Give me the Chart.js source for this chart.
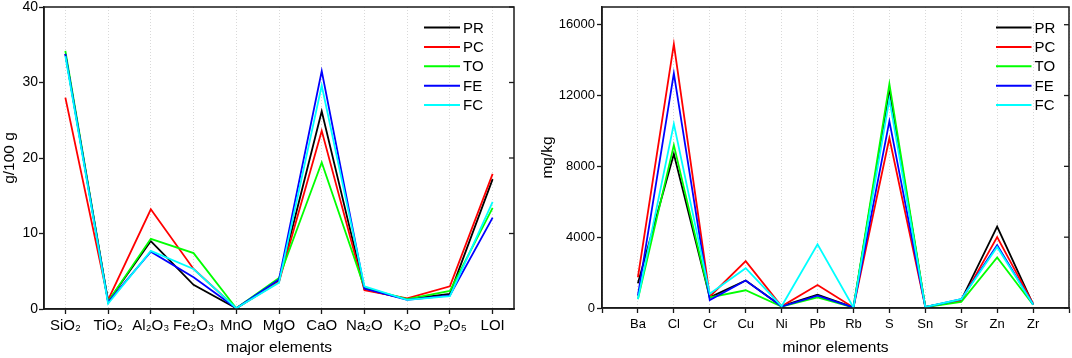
<!DOCTYPE html>
<html>
<head>
<meta charset="utf-8">
<script src="https://cdn.jsdelivr.net/npm/chart.js@4.4.0/dist/chart.umd.min.js"></script>
<style>
  html, body { margin: 0; padding: 0; background: #fff; }
  .wrap { position: absolute; top: 0; width: 536px; height: 358px; }
  #left { left: 0; }
  #right { left: 536px; }
</style>
</head>
<body>
<div class="wrap" id="left"><canvas id="majorChart" width="536" height="358"></canvas></div>
<div class="wrap" id="right"><canvas id="minorChart" width="536" height="358"></canvas></div>
<script>
// series
const seriesNames = ['PR', 'PC', 'TO', 'FE', 'FC'];
const seriesColors = ['#000000', '#ff0000', '#00ff00', '#0000ff', '#00ffff'];

// major elements, g/100 g
const majorCats = ['SiO₂', 'TiO₂', 'Al₂O₃', 'Fe₂O₃', 'MnO', 'MgO', 'CaO', 'Na₂O', 'K₂O', 'P₂O₅', 'LOI'];
const majorPR = [33.8, 1.0, 9.0, 3.2, 0.1, 3.7, 26.2, 2.6, 1.3, 2.0, 17.2];
const majorPC = [28.0, 1.2, 13.2, 5.3, 0.1, 3.6, 23.6, 2.5, 1.4, 3.0, 17.9];
const majorTO = [34.2, 1.0, 9.3, 7.4, 0.1, 4.1, 19.4, 2.8, 1.3, 2.4, 13.4];
const majorFE = [33.8, 0.9, 7.6, 4.2, 0.1, 3.9, 31.5, 2.7, 1.2, 1.8, 12.1];
const majorFC = [33.5, 0.7, 7.7, 5.3, 0.1, 3.5, 29.6, 3.0, 1.2, 1.7, 14.2];
const majorYTicks = [0, 10, 20, 30, 40];

// minor elements, mg/kg
const minorCats = ['Ba', 'Cl', 'Cr', 'Cu', 'Ni', 'Pb', 'Rb', 'S', 'Sn', 'Sr', 'Zn', 'Zr'];
const minorPR = [1400, 8700, 600, 1550, 100, 750, 30, 12300, 60, 450, 4600, 200];
const minorPC = [1750, 14900, 650, 2650, 100, 1300, 30, 9600, 60, 400, 4000, 250];
const minorTO = [500, 9200, 600, 1000, 80, 600, 30, 12650, 50, 350, 2850, 180];
const minorFE = [700, 13250, 450, 1550, 80, 700, 30, 10550, 50, 500, 3550, 200];
const minorFC = [500, 10400, 800, 2250, 100, 3600, 30, 11800, 60, 500, 3450, 200];
const minorYTicks = [0, 4000, 8000, 12000, 16000];

const fam = '"Liberation Sans", Arial, sans-serif';
Chart.defaults.font.family = fam;
Chart.defaults.color = '#000';

// box round the plot + small inward ticks on the right side
const framePlugin = {
  id: 'frame',
  afterDatasetsDraw(chart) {
    const {ctx, chartArea: a, scales} = chart;
    ctx.save();
    ctx.strokeStyle = '#1a1a1a';
    ctx.lineWidth = 1.5;
    ctx.strokeRect(a.left, a.top, a.right - a.left, a.bottom - a.top);
    ctx.lineWidth = 1.3;
    scales.y.ticks.forEach(t => {
      const y = scales.y.getPixelForValue(t.value);
      ctx.beginPath();
      ctx.moveTo(a.right - 5, y);
      ctx.lineTo(a.right, y);
      ctx.stroke();
    });
    ctx.restore();
  }
};

// legend drawn inside the plot, top right
const boxLegend = {
  id: 'boxLegend',
  afterDraw(chart, args, opts) {
    const {ctx, chartArea: a} = chart;
    ctx.save();
    ctx.font = '15px ' + fam;
    ctx.textBaseline = 'middle';
    chart.data.datasets.forEach((ds, i) => {
      const y = opts.top + i * opts.gap;
      const x = a.right - opts.inset;
      ctx.strokeStyle = ds.borderColor;
      ctx.lineWidth = 2;
      ctx.beginPath();
      ctx.moveTo(x, y);
      ctx.lineTo(x + opts.len, y);
      ctx.stroke();
      ctx.fillStyle = '#000';
      ctx.fillText(ds.label, x + opts.len + 3, y + 1);
    });
    ctx.restore();
  }
};

function makeSets(list, toPoint) {
  return list.map((vals, i) => ({
    label: seriesNames[i],
    data: toPoint(vals),
    borderColor: seriesColors[i],
    backgroundColor: seriesColors[i],
    borderWidth: 1.8,
    pointRadius: 0,
    tension: 0,
    order: list.length - i
  }));
}

const gridStyle = { color: 'rgba(0,0,0,0.15)', lineWidth: 1, tickColor: '#1a1a1a', tickLength: 5, tickWidth: 1.3 };

// left chart
new Chart(document.getElementById('majorChart'), {
  type: 'line',
  data: {
    labels: majorCats,
    datasets: makeSets([majorPR, majorPC, majorTO, majorFE, majorFC], v => v)
  },
  plugins: [framePlugin, boxLegend],
  options: {
    responsive: false,
    animation: false,
    layout: { padding: { left: 0, top: 7, right: 22, bottom: 0 } },
    plugins: {
      legend: { display: false },
      tooltip: { enabled: false },
      boxLegend: { top: 27.5, gap: 19.4, inset: 90, len: 36 }
    },
    scales: {
      x: {
        type: 'category',
        offset: true,
        grid: gridStyle,
        border: { color: '#1a1a1a', width: 1.5, dash: [1, 2] },
        ticks: { font: { size: 15 }, padding: 3, autoSkip: false, maxRotation: 0 },
        title: { display: true, text: 'major elements', font: { size: 15.5 }, padding: { top: 0, bottom: 1 } },
        afterFit(s) { s.height = 49; s.paddingLeft = 0; s.paddingRight = 0; }
      },
      y: {
        min: 0, max: 40,
        afterBuildTicks(s) { s.ticks = majorYTicks.map(v => ({ value: v })); },
        ticks: { font: { size: 14 }, padding: 1, callback: v => String(v) },
        grid: { drawOnChartArea: false, color: '#1a1a1a', tickLength: 5, tickWidth: 1.3 },
        border: { color: '#1a1a1a', width: 1.5 },
        title: { display: true, text: 'g/100 g', font: { size: 15.5 }, padding: { top: 0, bottom: 0 } },
        afterFit(s) { s.width = 44; s.paddingTop = 0; s.paddingBottom = 0; }
      }
    }
  }
});

// right chart
new Chart(document.getElementById('minorChart'), {
  type: 'line',
  data: {
    datasets: makeSets([minorPR, minorPC, minorTO, minorFE, minorFC], vals => vals.map((v, i) => ({ x: i, y: v })))
  },
  plugins: [framePlugin, boxLegend],
  options: {
    responsive: false,
    animation: false,
    layout: { padding: { left: 0, top: 7, right: 3, bottom: 0 } },
    plugins: {
      legend: { display: false },
      tooltip: { enabled: false },
      boxLegend: { top: 27.5, gap: 19.4, inset: 73, len: 35.5 }
    },
    scales: {
      x: {
        type: 'linear',
        min: -1, max: minorCats.length,
        afterBuildTicks(s) {
          s.ticks = [];
          for (let i = -1; i <= minorCats.length; i++) s.ticks.push({ value: i });
        },
        grid: gridStyle,
        border: { color: '#1a1a1a', width: 1.5, dash: [1, 2] },
        ticks: { font: { size: 13 }, padding: 4, autoSkip: false, maxRotation: 0, callback: v => minorCats[v] ?? '' },
        title: { display: true, text: 'minor elements', font: { size: 15.5 }, padding: { top: 0, bottom: 1 } },
        afterFit(s) { s.height = 50; s.paddingLeft = 0; s.paddingRight = 0; }
      },
      y: {
        min: 0, max: 17000,
        afterBuildTicks(s) { s.ticks = minorYTicks.map(v => ({ value: v })); },
        ticks: { font: { size: 13 }, padding: 2, callback: v => String(v) },
        grid: { drawOnChartArea: false, color: '#1a1a1a', tickLength: 5, tickWidth: 1.3 },
        border: { color: '#1a1a1a', width: 1.5 },
        title: { display: true, text: 'mg/kg', font: { size: 15.5 }, padding: { top: 2, bottom: 0 } },
        afterFit(s) { s.width = 66; s.paddingTop = 0; s.paddingBottom = 0; }
      }
    }
  }
});
</script>
</body>
</html>
